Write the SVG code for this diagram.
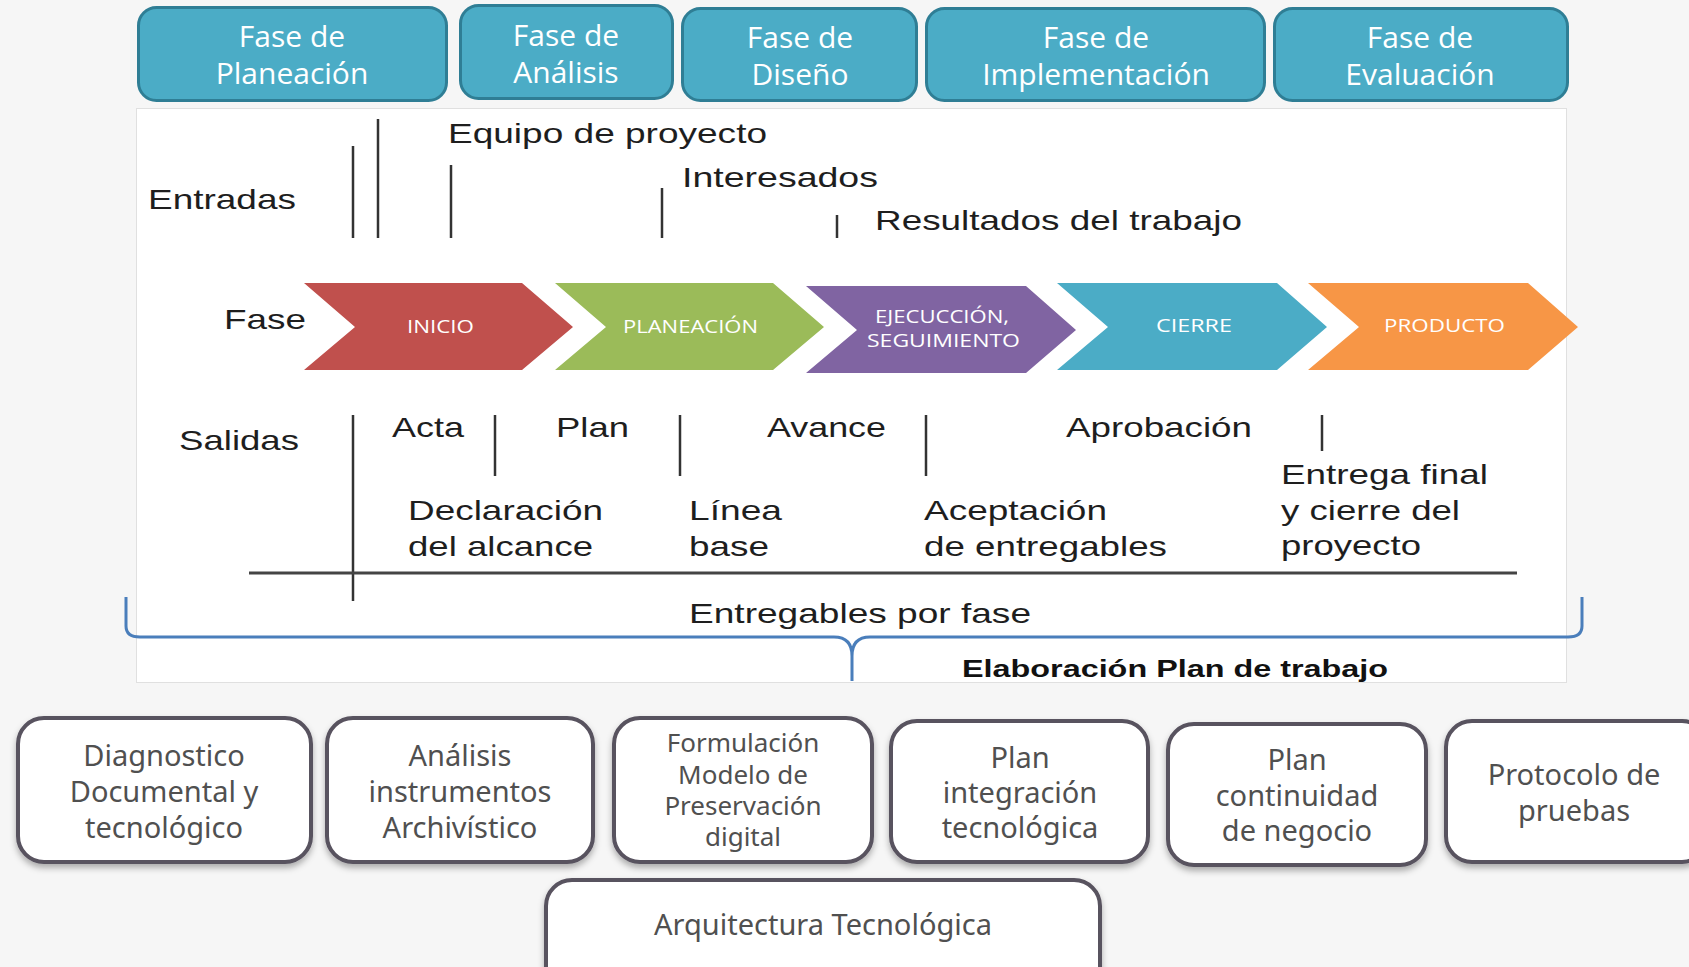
<svg xmlns="http://www.w3.org/2000/svg" width="1689" height="967" viewBox="0 0 1689 967">
<defs>
<style>
.phase rect{fill:#4BACC6;stroke:#2F7E95;stroke-width:3}
.phase text{font-family:"Open Sans","Noto Sans",sans-serif;font-size:30px;fill:#ffffff;text-anchor:middle}
.t{font-family:"Liberation Sans",Arial,sans-serif;font-size:28px;fill:#1e1e1e}
.tb{font-family:"Liberation Sans",Arial,sans-serif;font-size:24px;font-weight:bold;fill:#111}
.ln{stroke:#333;stroke-width:2.5;fill:none}
.chev text{font-family:"Open Sans","Noto Sans",sans-serif;font-size:18px;fill:#ffffff}
.box rect{fill:#ffffff;stroke:#58525F;stroke-width:4}
.box text{font-family:"Noto Sans","Open Sans",sans-serif;font-size:29px;fill:#505050;text-anchor:middle}
</style>
<filter id="sh" x="-10%" y="-10%" width="120%" height="130%">
<feDropShadow dx="0" dy="4" stdDeviation="3" flood-color="#000" flood-opacity="0.3"/>
</filter>
</defs>
<rect x="0" y="0" width="1689" height="967" fill="#F6F6F6"/>

<!-- top phase boxes -->
<g id="fase-planeacion" class="phase">
<rect x="138.5" y="7.5" width="308" height="93" rx="18"/>
<text x="292" y="47">Fase de</text><text x="292" y="84">Planeación</text>
</g>
<g id="fase-analisis" class="phase">
<rect x="460.5" y="5.5" width="212" height="93" rx="18"/>
<text x="566" y="46">Fase de</text><text x="566" y="83">Análisis</text>
</g>
<g id="fase-diseno" class="phase">
<rect x="682.5" y="8.5" width="234" height="92" rx="18"/>
<text x="800" y="48">Fase de</text><text x="800" y="85">Diseño</text>
</g>
<g id="fase-implementacion" class="phase">
<rect x="926.5" y="8.5" width="338" height="92" rx="18"/>
<text x="1096" y="48">Fase de</text><text x="1096" y="85">Implementación</text>
</g>
<g id="fase-evaluacion" class="phase">
<rect x="1274.5" y="8.5" width="293" height="92" rx="18"/>
<text x="1420" y="48">Fase de</text><text x="1420" y="85">Evaluación</text>
</g>

<!-- main panel -->
<g id="panel">
<rect x="136.5" y="108.5" width="1430" height="574" fill="#ffffff" stroke="#E0E0E0" stroke-width="1"/>
</g>

<g id="entradas">
<text class="t" x="148" y="209" textLength="148" lengthAdjust="spacingAndGlyphs">Entradas</text>
<text class="t" x="448" y="143" textLength="319" lengthAdjust="spacingAndGlyphs">Equipo de proyecto</text>
<text class="t" x="682" y="187" textLength="196" lengthAdjust="spacingAndGlyphs">Interesados</text>
<text class="t" x="875" y="230" textLength="367" lengthAdjust="spacingAndGlyphs">Resultados del trabajo</text>
</g>

<g id="connectors">
<line class="ln" x1="353" y1="146" x2="353" y2="238"/>
<line class="ln" x1="378" y1="119" x2="378" y2="238"/>
<line class="ln" x1="451" y1="165" x2="451" y2="238"/>
<line class="ln" x1="662" y1="188" x2="662" y2="238"/>
<line class="ln" x1="837" y1="215" x2="837" y2="238"/>
<line class="ln" x1="353" y1="415" x2="353" y2="601"/>
<line class="ln" x1="495" y1="415" x2="495" y2="476"/>
<line class="ln" x1="680" y1="415" x2="680" y2="476"/>
<line class="ln" x1="926" y1="415" x2="926" y2="476"/>
<line class="ln" x1="1322" y1="415" x2="1322" y2="451"/>
<line x1="249" y1="573" x2="1517" y2="573" stroke="#444" stroke-width="3"/>
<path d="M126,597 L126,626 Q126,637 140,637 L834,637 Q852,637 852,656 L852,681 M852,656 Q852,637 870,637 L1568,637 Q1582,637 1582,626 L1582,597" fill="none" stroke="#4A7EBB" stroke-width="3"/>
</g>

<g id="fase-label">
<text class="t" x="224" y="329" textLength="82" lengthAdjust="spacingAndGlyphs">Fase</text>
</g>

<g id="chev-inicio" class="chev">
<path d="M304,283 L522,283 L573,327 L522,370 L304,370 L355,327 Z" fill="#C0504D"/>
<text x="407" y="333" textLength="67" lengthAdjust="spacingAndGlyphs">INICIO</text>
</g>
<g id="chev-planeacion" class="chev">
<path d="M555,283 L773,283 L824,327 L773,370 L555,370 L606,327 Z" fill="#9BBB59"/>
<text x="623" y="333" textLength="135" lengthAdjust="spacingAndGlyphs">PLANEACIÓN</text>
</g>
<g id="chev-ejecucion" class="chev">
<path d="M806,286 L1026,286 L1076,330 L1026,373 L806,373 L857,330 Z" fill="#8064A2"/>
<text x="875" y="323" textLength="134" lengthAdjust="spacingAndGlyphs">EJECUCCIÓN,</text>
<text x="867" y="347" textLength="153" lengthAdjust="spacingAndGlyphs">SEGUIMIENTO</text>
</g>
<g id="chev-cierre" class="chev">
<path d="M1057,283 L1277,283 L1327,327 L1277,370 L1057,370 L1108,327 Z" fill="#4BACC6"/>
<text x="1156" y="332" textLength="76" lengthAdjust="spacingAndGlyphs">CIERRE</text>
</g>
<g id="chev-producto" class="chev">
<path d="M1308,283 L1528,283 L1578,327 L1528,370 L1308,370 L1359,327 Z" fill="#F79646"/>
<text x="1384" y="332" textLength="121" lengthAdjust="spacingAndGlyphs">PRODUCTO</text>
</g>

<g id="salidas">
<text class="t" x="179" y="450" textLength="120" lengthAdjust="spacingAndGlyphs">Salidas</text>
<text class="t" x="392" y="437" textLength="72" lengthAdjust="spacingAndGlyphs">Acta</text>
<text class="t" x="556" y="437" textLength="73" lengthAdjust="spacingAndGlyphs">Plan</text>
<text class="t" x="767" y="437" textLength="119" lengthAdjust="spacingAndGlyphs">Avance</text>
<text class="t" x="1066" y="437" textLength="186" lengthAdjust="spacingAndGlyphs">Aprobación</text>
<text class="t" x="408" y="520" textLength="195" lengthAdjust="spacingAndGlyphs">Declaración</text>
<text class="t" x="408" y="556" textLength="185" lengthAdjust="spacingAndGlyphs">del alcance</text>
<text class="t" x="689" y="520" textLength="93" lengthAdjust="spacingAndGlyphs">Línea</text>
<text class="t" x="689" y="556" textLength="80" lengthAdjust="spacingAndGlyphs">base</text>
<text class="t" x="924" y="520" textLength="183" lengthAdjust="spacingAndGlyphs">Aceptación</text>
<text class="t" x="924" y="556" textLength="243" lengthAdjust="spacingAndGlyphs">de entregables</text>
<text class="t" x="1281" y="484" textLength="207" lengthAdjust="spacingAndGlyphs">Entrega final</text>
<text class="t" x="1281" y="520" textLength="179" lengthAdjust="spacingAndGlyphs">y cierre del</text>
<text class="t" x="1281" y="555" textLength="140" lengthAdjust="spacingAndGlyphs">proyecto</text>
<text class="t" x="689" y="623" textLength="342" lengthAdjust="spacingAndGlyphs">Entregables por fase</text>
<text class="tb" x="962" y="677" textLength="426" lengthAdjust="spacingAndGlyphs">Elaboración Plan de trabajo</text>
</g>

<!-- bottom boxes -->
<g id="diagnostico" class="box">
<rect x="18" y="718" width="293" height="144" rx="26" filter="url(#sh)"/>
<text x="164" y="766">Diagnostico</text><text x="164" y="802">Documental y</text><text x="164" y="838">tecnológico</text>
</g>
<g id="analisis-instrumentos" class="box">
<rect x="327" y="718" width="266" height="144" rx="26" filter="url(#sh)"/>
<text x="460" y="766">Análisis</text><text x="460" y="802">instrumentos</text><text x="460" y="838">Archivístico</text>
</g>
<g id="formulacion" class="box">
<rect x="614" y="718" width="258" height="144" rx="26" filter="url(#sh)"/>
<text x="743" y="752" style="font-size:26px">Formulación</text><text x="743" y="784" style="font-size:26px">Modelo de</text><text x="743" y="815" style="font-size:26px">Preservación</text><text x="743" y="846" style="font-size:26px">digital</text>
</g>
<g id="plan-integracion" class="box">
<rect x="891" y="721" width="257" height="141" rx="26" filter="url(#sh)"/>
<text x="1020" y="768">Plan</text><text x="1020" y="803">integración</text><text x="1020" y="838">tecnológica</text>
</g>
<g id="plan-continuidad" class="box">
<rect x="1168" y="724" width="258" height="141" rx="26" filter="url(#sh)"/>
<text x="1297" y="770">Plan</text><text x="1297" y="806">continuidad</text><text x="1297" y="841">de negocio</text>
</g>
<g id="protocolo" class="box">
<rect x="1446" y="721" width="262" height="141" rx="26" filter="url(#sh)"/>
<text x="1574" y="785">Protocolo de</text><text x="1574" y="821">pruebas</text>
</g>
<g id="arquitectura" class="box">
<rect x="546" y="880" width="554" height="130" rx="26" filter="url(#sh)"/>
<text x="823" y="935">Arquitectura Tecnológica</text>
</g>
</svg>
